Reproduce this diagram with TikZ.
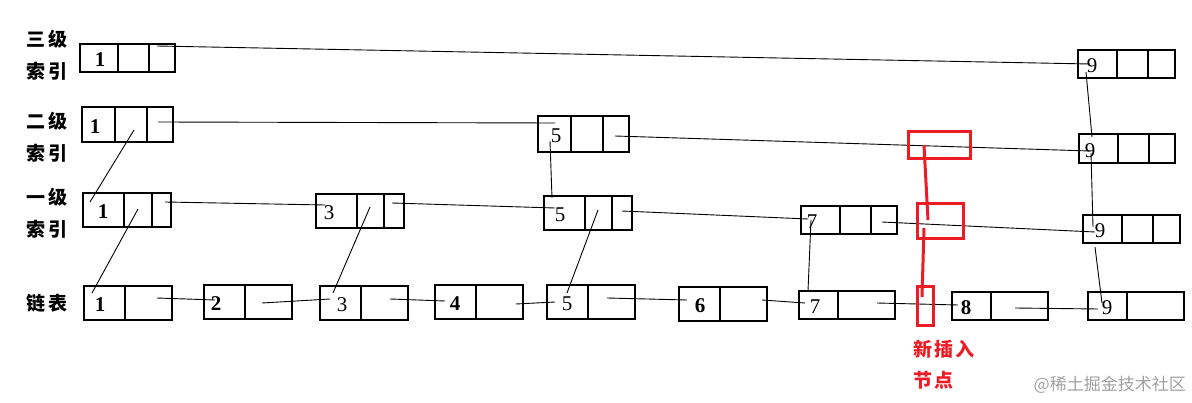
\documentclass[tikz,border=0pt]{standalone}
\usepackage{fontspec}
\setmainfont{Liberation Serif}
\newfontfamily\cjk{Noto Sans CJK SC}
\usetikzlibrary{calc}
\definecolor{myred}{RGB}{237,28,36}
\definecolor{wmgray}{RGB}{160,160,160}
\tikzset{
  cellbox/.style={draw, line width=1.3pt, anchor=north west, inner sep=0pt, outer sep=0pt},
  boxline/.style={line width=1.3pt},
  num/.style={font=\fontsize{21}{21}\selectfont, inner sep=0pt},
  link/.style={line width=0.9pt},
  lab/.style={font=\cjk\bfseries\fontsize{19}{32}\selectfont, align=center, inner sep=0pt},
  redbox/.style={draw=myred, line width=3pt, anchor=north west, inner sep=0pt, outer sep=0pt},
  redlink/.style={draw=myred, line width=3pt},
}
\newcommand\tribox[9]{%
  \node[cellbox, minimum width={(#4-#2)*1pt}, minimum height={(#5-#3)*1pt}] (#1) at (#2,#3) {};
  \draw[boxline] (#6,#3) -- (#6,#5);
  \draw[boxline] (#7,#3) -- (#7,#5);
  \node[num] (#1-n) at (#8,{(#3+#5)/2+2}) {#9};
}
\newcommand\duobox[8]{%
  \node[cellbox, minimum width={(#4-#2)*1pt}, minimum height={(#5-#3)*1pt}] (#1) at (#2,#3) {};
  \draw[boxline] (#6,#3) -- (#6,#5);
  \node[num] (#1-n) at (#7,{(#3+#5)/2+2}) {#8};
}
\begin{document}
\begin{tikzpicture}[x=1pt,y=-1pt]
\useasboundingbox (0,0) rectangle (1192,403);
% labels
\node[lab] (t3) at (47,55) {三\hspace{3pt}级\\索\hspace{3pt}引};
\node[lab] (t2) at (47,137) {二\hspace{3pt}级\\索\hspace{3pt}引};
\node[lab] (t1) at (47,213) {一\hspace{3pt}级\\索\hspace{3pt}引};
\node[lab] (t0) at (47,303) {链\hspace{3pt}表};
% level 3
\tribox{Ta}{80}{44}{175}{72}{118}{149}{100}{\textbf{1}}
\tribox{Tb}{1078}{50}{1175}{78}{1117}{1148}{1092}{9}
% level 2
\tribox{Sa}{82}{107}{173}{142}{115}{147}{95}{\textbf{1}}
\tribox{Sb}{538}{116}{629}{152}{571}{603}{556}{5}
\tribox{Sc}{1079}{134}{1175}{163}{1118}{1149}{1090}{9}
% level 1
\tribox{Fa}{83}{193}{171}{227}{124}{152}{103}{\textbf{1}}
\tribox{Fb}{316}{194}{404}{228}{357}{384}{329}{3}
\tribox{Fc}{544}{196}{632}{230}{585}{612}{560}{5}
\tribox{Fd}{801}{206}{897}{234}{840}{871}{812}{7}
\tribox{Fe}{1083}{215}{1180}{243}{1122}{1153}{1100}{9}
% list
\duobox{La}{84}{286}{172}{320}{125}{100}{\textbf{1}}
\duobox{Lb}{204}{285}{292}{319}{245}{216}{\textbf{2}}
\duobox{Lc}{320}{286}{408}{320}{361}{342}{3}
\duobox{Ld}{435}{285}{523}{319}{476}{455}{\textbf{4}}
\duobox{Le}{547}{285}{635}{319}{588}{567}{5}
\duobox{Lf}{679}{287}{767}{321}{720}{700}{\textbf{6}}
\duobox{Lg}{799}{291}{895}{319}{838}{815}{7}
\duobox{Lh}{952}{292}{1048}{320}{991}{966}{\textbf{8}}
\duobox{Li}{1088}{292}{1184}{320}{1127}{1107}{9}
% horizontal link ends
\coordinate (h1a) at (157,46);  \coordinate (h1b) at (1090,64);
\coordinate (h2a) at (158,122); \coordinate (h2b) at (555,123);
\coordinate (h3a) at (615,136); \coordinate (h3b) at (1090,151);
\coordinate (h4a) at (165,202); \coordinate (h4b) at (325,205);
\coordinate (h5a) at (392,203); \coordinate (h5b) at (555,208);
\coordinate (h6a) at (622,211); \coordinate (h6b) at (808,219);
\coordinate (h7a) at (882,222); \coordinate (h7b) at (1095,232);
\coordinate (p1a) at (157,298); \coordinate (p1b) at (215,300);
\coordinate (p2a) at (262,303); \coordinate (p2b) at (330,299);
\coordinate (p3a) at (390,299); \coordinate (p3b) at (445,301);
\coordinate (p4a) at (516,304); \coordinate (p4b) at (555,302);
\coordinate (p5a) at (607,298); \coordinate (p5b) at (687,300);
\coordinate (p6a) at (762,300); \coordinate (p6b) at (805,303);
\coordinate (p7a) at (877,303); \coordinate (p7b) at (958,305);
\coordinate (p8a) at (1015,308); \coordinate (p8b) at (1098,309);
\foreach \n in {h1,h2,h3,h4,h5,h6,h7,p1,p2,p3,p4,p5,p6,p7,p8}
  \draw[link] (\n a) -- (\n b);
% vertical link ends
\coordinate (v1a) at (134,130); \coordinate (v1b) at (90,202);
\coordinate (v2a) at (138,209); \coordinate (v2b) at (92,293);
\coordinate (v3a) at (370,207); \coordinate (v3b) at (333,293);
\coordinate (v4a) at (550,141); \coordinate (v4b) at (552,198);
\coordinate (v5a) at (598,210); \coordinate (v5b) at (567,293);
\coordinate (v6a) at (811,220); \coordinate (v6b) at (808,291);
\coordinate (v7a) at (1086,72); \coordinate (v7b) at (1092,137);
\coordinate (v8a) at (1091,153); \coordinate (v8b) at (1093,227);
\coordinate (v9a) at (1095,247); \coordinate (v9b) at (1102,303);
\foreach \n in {v1,v2,v3,v4,v5,v6,v7,v8,v9}
  \draw[link] (\n a) -- (\n b);
% new node (red)
\node[redbox, minimum width=62pt, minimum height=27pt] (r1) at (908,132) {};
\node[redbox, minimum width=46pt, minimum height=35pt] (r2) at (917,204) {};
\node[redbox, minimum width=16pt, minimum height=39pt] (r3) at (917,287) {};
\coordinate (ra1) at (924,145); \coordinate (rb1) at (928,220);
\coordinate (ra2) at (924,228); \coordinate (rb2) at (922,297);
\draw[redlink] (ra1) -- (rb1);
\draw[redlink] (ra2) -- (rb2);
\node[font=\cjk\bfseries\fontsize{19}{31}\selectfont, text=myred, align=left, anchor=north west, inner sep=0pt] (newlab) at (913,340) {新\hspace{2pt}插\hspace{2pt}入\\节\hspace{2pt}点};
% watermark
\node[font=\cjk\fontsize{17}{17}\selectfont, text=wmgray, anchor=east, inner sep=0pt] (wm) at (1186,385) {@稀土掘金技术社区};
\end{tikzpicture}
\end{document}
